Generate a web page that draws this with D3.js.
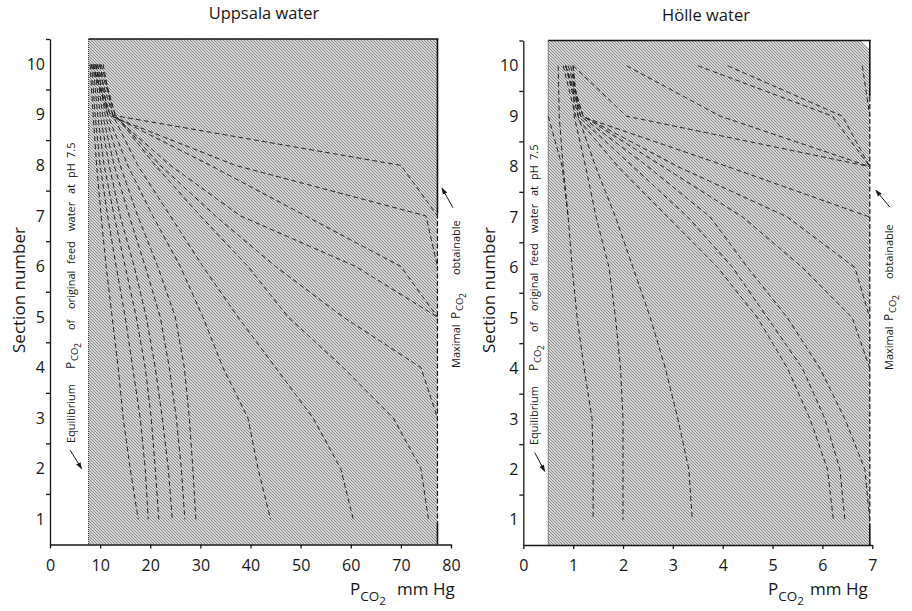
<!DOCTYPE html>
<html><head><meta charset="utf-8">
<script src="https://cdn.jsdelivr.net/npm/d3@7"></script>
<style>
body{margin:0;background:#fff}
svg{display:block}
text{font-family:"Open Sans",sans-serif;fill:#161616}
</style>
</head><body>
<svg id="chart" width="912" height="611"></svg>
<script>
// ---------- data ----------
const sections = [10, 9, 8, 7, 6, 5, 4, 3, 2, 1];
const sectionTicks = [1, 2, 3, 4, 5, 6, 7, 8, 9, 10];
const sectionBounds = [1.5, 2.5, 3.5, 4.5, 5.5, 6.5, 7.5, 8.5, 9.5, 10.5];
const uppsalaXTicks = [0, 10, 20, 30, 40, 50, 60, 70, 80];
const holleXTicks = [0, 1, 2, 3, 4, 5, 6, 7];

// PCO2 (mm Hg) at sections 10,9,8,... (curve stops where it meets the maximal line)
const uppsalaSeries = [
  [8.2, 12, 70, 77.3],
  [8.6, 11.5, 37, 75, 77.3],
  [9.0, 12, 32, 51, 70, 77.3],
  [9.4, 12.5, 24, 38, 61, 77.3],
  [9.8, 13, 22, 33, 45, 58.5, 74, 77.3],
  [10.2, 13, 21, 30, 39.5, 47.5, 58.5, 68.5, 74, 75.5],
  [10.6, 12.5, 17.5, 24, 30.5, 37.5, 45, 52.5, 58, 60.5],
  [10.0, 11.5, 15.5, 20.5, 26, 30.5, 34.5, 39.5, 41.5, 44],
  [9.5, 11, 14, 17.5, 21.5, 25, 26.8, 27.8, 28.5, 29.1],
  [9.2, 10.5, 12.8, 15.8, 19, 22, 23.8, 25.2, 26.2, 26.9],
  [8.9, 10, 11.8, 14, 16.8, 19.2, 21, 22.4, 23.6, 24.4],
  [8.6, 9.5, 10.8, 12.8, 15, 17.2, 19, 20.2, 21, 21.7],
  [8.3, 9.0, 10.0, 11.5, 13.2, 15, 16.5, 18, 19, 19.6],
  [8.0, 8.6, 9.3, 10.2, 11.2, 12.4, 13.6, 14.6, 16, 17.6]
];
const holleSeries = [
  [3.5, 6.2, 6.95],
  [4.1, 6.4, 6.95],
  [2.07, 3.95, 6.95],
  [1.0, 2.07, 6.95],
  [0.95, 1.15, 4.1, 6.95],
  [0.9, 1.2, 3.1, 5.3, 6.65, 6.95],
  [0.85, 1.2, 2.8, 4.4, 5.6, 6.6, 6.95],
  [0.85, 1.15, 2.5, 3.75, 4.5, 5.3, 5.95, 6.45, 6.85, 6.95],
  [0.85, 1.1, 2.2, 3.3, 4.2, 4.9, 5.6, 6.05, 6.35, 6.45],
  [0.8, 1.05, 1.9, 2.9, 3.9, 4.7, 5.3, 5.75, 6.1, 6.22],
  [1.0, 1.1, 1.45, 1.85, 2.2, 2.55, 2.85, 3.1, 3.32, 3.39],
  [1.0, 1.02, 1.25, 1.46, 1.72, 1.85, 1.95, 2.0, 2.0, 2.0],
  [0.7, 0.72, 0.8, 0.9, 0.98, 1.08, 1.22, 1.38, 1.4, 1.4],
  [null, 0.5, 0.78, 0.9],
  [6.8, 6.95]
];

// ---------- layout ----------
const panels = [
  {
    title: "Uppsala water", titleX: 264, titleY: 19,
    series: uppsalaSeries, xDomain: [0, 80], xRange: [50, 451], yRange: [544.5, 39],
    xTicks: uppsalaXTicks, shade: [7.7, 77.3], solidTo: 7.05, solidFrom: 0.93,
    yLabelX: 25, xLabelP: 350, xLabelMm: 397,
    eqX: 75, eqWords: [["Equilibrium", 443], ["P", 369], ["CO", 361, 1], ["2", 348, 2], ["of", 330], ["original", 309], ["feed", 264], ["water", 231], ["at", 194], ["pH", 178], ["7.5", 158]],
    eqArrow: [[4.0, 2.37], [6.3, 2.0]],
    maxX: 460, maxWords: [["Maximal", 368], ["P", 319], ["CO", 311, 1], ["2", 298, 2], ["obtainable", 275]],
    maxArrow: [[80.4, 7.16], [78.2, 7.55]],
    notch: false
  },
  {
    title: "Hölle water", titleX: 706, titleY: 21,
    series: holleSeries, xDomain: [0, 7], xRange: [523.3, 872.3], yRange: [545, 40.5],
    xTicks: holleXTicks, shade: [0.5, 6.95], solidTo: 9.39, solidFrom: 0.93,
    yLabelX: 495, xLabelP: 768, xLabelMm: 810,
    eqX: 538, eqWords: [["Equilibrium", 445], ["P", 371], ["CO", 363, 1], ["2", 350, 2], ["of", 332], ["original", 311], ["feed", 266], ["water", 233], ["at", 196], ["pH", 180], ["7.5", 160]],
    eqArrow: [[0.23, 2.33], [0.43, 1.96]],
    maxX: 893, maxWords: [["Maximal", 370], ["P", 321], ["CO", 313, 1], ["2", 300, 2], ["obtainable", 279]],
    maxArrow: [[7.35, 7.2], [7.07, 7.53]],
    notch: true
  }
];

const svg = d3.select("#chart");
const defs = svg.append("defs");
const pat = defs.append("pattern").attr("id", "hatch")
  .attr("patternUnits", "userSpaceOnUse").attr("width", 3).attr("height", 3);
pat.append("rect").attr("width", 3).attr("height", 3).attr("fill", "#d6d6d6");
pat.append("path").attr("d", "M-1,-1 L4,4 M-1,2 L1,4 M2,-1 L4,1")
  .attr("stroke", "#666").attr("stroke-width", 0.7);
defs.append("marker").attr("id", "ah").attr("viewBox", "0 0 10 10")
  .attr("refX", 9).attr("refY", 5).attr("markerWidth", 7).attr("markerHeight", 7)
  .attr("orient", "auto")
  .append("path").attr("d", "M0,1.5 L10,5 L0,8.5 z").attr("fill", "#161616");

panels.forEach(p => {
  const x = d3.scaleLinear().domain(p.xDomain).range(p.xRange);
  const y = d3.scaleLinear().domain([0.5, 10.5]).range(p.yRange);
  const g = svg.append("g");

  // hatched region
  const x0 = x(p.shade[0]), x1 = x(p.shade[1]);
  g.append("rect").attr("x", x0).attr("y", y(10.5)).attr("width", x1 - x0)
    .attr("height", y(0.5) - y(10.5)).attr("fill", "url(#hatch)");
  if (p.notch) {
    g.append("path").attr("d", `M${x1 - 9},${y(10.5)} L${x1 + 1},${y(10.5)} L${x1 + 1},${y(10.5) + 10} Z`).attr("fill", "#fff");
  }
  // borders
  g.append("line").attr("x1", x0).attr("x2", x1 + 1).attr("y1", y(10.5)).attr("y2", y(10.5))
    .attr("stroke", "#111").attr("stroke-width", 1.6);
  g.append("line").attr("x1", x0).attr("x2", x0).attr("y1", y(10.5)).attr("y2", y(0.5))
    .attr("stroke", "#222").attr("stroke-width", 1).attr("stroke-dasharray", "1,1");
  g.append("line").attr("x1", x1).attr("x2", x1).attr("y1", y(10.5)).attr("y2", y(p.solidTo))
    .attr("stroke", "#111").attr("stroke-width", 1.6);
  g.append("line").attr("x1", x1).attr("x2", x1).attr("y1", y(p.solidTo)).attr("y2", y(p.solidFrom))
    .attr("stroke", "#111").attr("stroke-width", 1.2).attr("stroke-dasharray", "5,2.5");
  g.append("line").attr("x1", x1).attr("x2", x1).attr("y1", y(p.solidFrom)).attr("y2", y(0.5))
    .attr("stroke", "#111").attr("stroke-width", 1.6);

  // curves
  const line = d3.line().defined(d => d[0] != null)
    .x(d => x(d[0])).y(d => y(d[1])).curve(d3.curveLinear);
  p.series.forEach(vals => {
    const pts = vals.map((v, i) => [v, sections[i]]);
    g.append("path").attr("d", line(pts)).attr("fill", "none")
      .attr("stroke", "#262626").attr("stroke-width", 1).attr("stroke-dasharray", "5,3");
  });

  // axes
  const xa = g.append("g").attr("transform", `translate(0,${y(0.5)})`)
    .call(d3.axisBottom(x).tickValues(p.xTicks).tickSize(4).tickSizeOuter(0).tickPadding(11).tickFormat(d3.format("d")));
  const ya = g.append("g").attr("transform", `translate(${x(0)},0)`)
    .call(d3.axisLeft(y).tickValues(sectionBounds).tickSize(4).tickSizeOuter(0).tickFormat(""));
  const yl = g.append("g").attr("transform", `translate(${x(0)},0)`)
    .call(d3.axisLeft(y).tickValues(sectionTicks).tickSize(0).tickPadding(5).tickFormat(d3.format("d")));
  yl.select(".domain").remove();
  [xa, ya, yl].forEach(a => {
    a.selectAll("path,line").attr("stroke", "#161616").attr("stroke-width", 1.3);
    a.selectAll("text").attr("font-size", 16).attr("font-family", "Open Sans").attr("fill", "#161616");
  });

  // titles & labels
  g.append("text").attr("x", p.titleX).attr("y", p.titleY).attr("text-anchor", "middle")
    .attr("font-size", 16.5).text(p.title);
  g.append("text").attr("transform", `translate(${p.yLabelX},290) rotate(-90)`)
    .attr("text-anchor", "middle").attr("font-size", 17).text("Section number");
  const xl = g.append("text").attr("x", p.xLabelP).attr("y", 595).attr("font-size", 17);
  xl.append("tspan").text("P");
  xl.append("tspan").attr("font-size", 13.5).attr("dy", 6).text("CO");
  xl.append("tspan").attr("font-size", 11.5).attr("dy", 4).text("2");
  g.append("text").attr("x", p.xLabelMm).attr("y", 595).attr("font-size", 17).text("mm Hg");

  // rotated annotations
  const sub = [0, 3, 6], subSize = [11, 9.5, 8.5];
  const words = (bx, list) => list.forEach(([t, sy, lvl]) => {
    const l = lvl || 0;
    g.append("text").attr("transform", `translate(${bx + sub[l]},${sy}) rotate(-90)`)
      .attr("font-size", t === "P" ? 12 : subSize[l]).text(t);
  });
  words(p.eqX, p.eqWords);
  words(p.maxX, p.maxWords);
  const arrow = a => g.append("line")
    .attr("x1", x(a[0][0])).attr("y1", y(a[0][1])).attr("x2", x(a[1][0])).attr("y2", y(a[1][1]))
    .attr("stroke", "#161616").attr("stroke-width", 1).attr("marker-end", "url(#ah)");
  arrow(p.eqArrow);
  arrow(p.maxArrow);
});
</script>
</body></html>
